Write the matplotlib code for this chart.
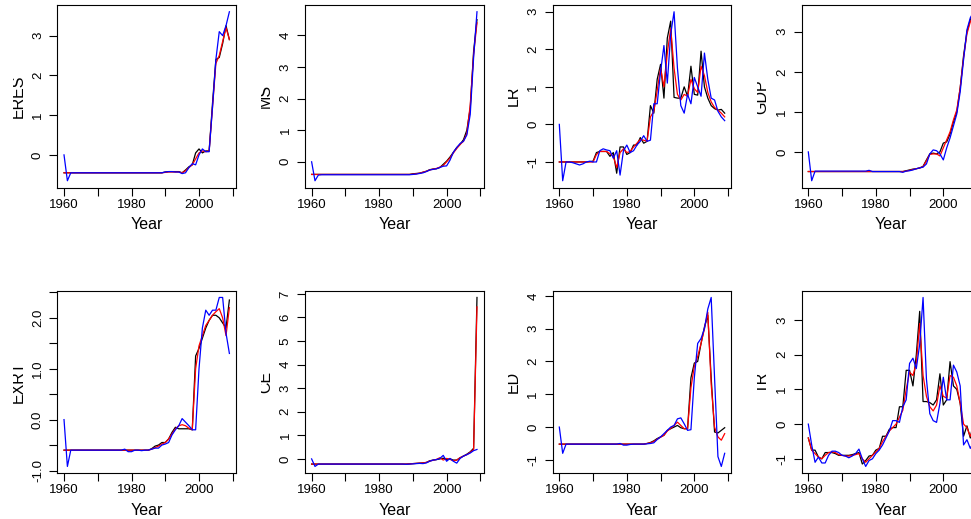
import numpy as np
import matplotlib
matplotlib.use("Agg")
import matplotlib.pyplot as plt
from matplotlib.transforms import Bbox, TransformedBbox

plt.rcParams['font.family'] = ['Liberation Sans', 'DejaVu Sans']
plt.rcParams['axes.unicode_minus'] = False

years = list(range(1960, 2010))

# ---- data (black, red, blue) ----
eres_black = [-0.45, -0.45, -0.45, -0.45, -0.45, -0.45, -0.45, -0.45, -0.45, -0.45,
              -0.45, -0.45, -0.45, -0.45, -0.45, -0.45, -0.45, -0.45, -0.45, -0.45,
              -0.45, -0.45, -0.45, -0.45, -0.45, -0.45, -0.45, -0.45, -0.45, -0.45,
              -0.43, -0.42, -0.42, -0.42, -0.42, -0.45, -0.38, -0.30, -0.25, 0.05,
              0.15, 0.05, 0.10, 0.10, 1.30, 2.40, 2.45, 2.80, 3.25, 2.90]
eres_red = [-0.45, -0.45, -0.45, -0.45, -0.45, -0.45, -0.45, -0.45, -0.45, -0.45,
            -0.45, -0.45, -0.45, -0.45, -0.45, -0.45, -0.45, -0.45, -0.45, -0.45,
            -0.45, -0.45, -0.45, -0.45, -0.45, -0.45, -0.45, -0.45, -0.45, -0.45,
            -0.44, -0.43, -0.43, -0.43, -0.43, -0.45, -0.40, -0.32, -0.25, -0.10,
            0.05, 0.10, 0.08, 0.10, 1.20, 2.30, 2.50, 2.85, 3.20, 2.90]
eres_blue = [0.00, -0.65, -0.45, -0.45, -0.45, -0.45, -0.45, -0.45, -0.45, -0.45,
             -0.45, -0.45, -0.45, -0.45, -0.45, -0.45, -0.45, -0.45, -0.45, -0.45,
             -0.45, -0.45, -0.45, -0.45, -0.45, -0.45, -0.45, -0.45, -0.45, -0.45,
             -0.43, -0.42, -0.42, -0.43, -0.43, -0.47, -0.45, -0.32, -0.22, -0.25,
             0.00, 0.15, 0.08, 0.08, 1.20, 2.40, 3.10, 3.00, 3.25, 3.60]

ms_black = [-0.40, -0.40, -0.40, -0.40, -0.40, -0.40, -0.40, -0.40, -0.40, -0.40,
            -0.40, -0.40, -0.40, -0.40, -0.40, -0.40, -0.40, -0.40, -0.40, -0.40,
            -0.40, -0.40, -0.40, -0.40, -0.40, -0.40, -0.40, -0.40, -0.40, -0.40,
            -0.38, -0.37, -0.36, -0.33, -0.30, -0.25, -0.23, -0.22, -0.18, -0.08,
            0.02, 0.15, 0.30, 0.45, 0.55, 0.70, 1.00, 1.70, 3.50, 4.50]
ms_red = [-0.40, -0.40, -0.40, -0.40, -0.40, -0.40, -0.40, -0.40, -0.40, -0.40,
          -0.40, -0.40, -0.40, -0.40, -0.40, -0.40, -0.40, -0.40, -0.40, -0.40,
          -0.40, -0.40, -0.40, -0.40, -0.40, -0.40, -0.40, -0.40, -0.40, -0.40,
          -0.39, -0.38, -0.36, -0.33, -0.30, -0.26, -0.23, -0.21, -0.17, -0.12,
          0.00, 0.12, 0.28, 0.42, 0.55, 0.65, 0.90, 1.80, 3.40, 4.40]
ms_blue = [0.00, -0.60, -0.42, -0.41, -0.41, -0.41, -0.41, -0.41, -0.41, -0.41,
           -0.41, -0.41, -0.41, -0.41, -0.41, -0.41, -0.41, -0.41, -0.41, -0.41,
           -0.41, -0.41, -0.41, -0.41, -0.41, -0.41, -0.41, -0.41, -0.41, -0.41,
           -0.40, -0.39, -0.37, -0.35, -0.31, -0.26, -0.24, -0.22, -0.18, -0.14,
           -0.13, 0.05, 0.30, 0.45, 0.58, 0.65, 0.85, 1.50, 3.30, 4.75]

lr_black = [-1.00, -1.00, -1.00, -1.00, -1.00, -1.00, -1.00, -1.00, -1.00, -0.99,
            -0.98, -0.75, -0.72, -0.72, -0.72, -0.85, -0.75, -1.30, -0.60, -0.60,
            -0.80, -0.75, -0.55, -0.55, -0.35, -0.50, -0.45, 0.50, 0.30, 1.20,
            1.60, 0.70, 2.30, 2.75, 0.72, 0.70, 0.70, 1.00, 0.75, 1.55,
            0.80, 0.78, 1.95, 1.00, 0.70, 0.50, 0.42, 0.38, 0.40, 0.30]
lr_red = [-1.00, -1.00, -1.00, -1.00, -1.00, -1.00, -1.00, -1.00, -1.00, -1.00,
          -1.00, -0.80, -0.72, -0.72, -0.72, -0.78, -0.85, -1.15, -0.75, -0.65,
          -0.75, -0.72, -0.60, -0.50, -0.40, -0.42, -0.45, 0.20, 0.35, 0.90,
          1.50, 1.00, 1.90, 2.55, 1.50, 0.80, 0.65, 0.80, 0.75, 1.20,
          0.95, 0.85, 1.55, 1.30, 0.85, 0.60, 0.45, 0.38, 0.30, 0.20]
lr_blue = [0.00, -1.50, -1.00, -1.00, -1.02, -1.05, -1.08, -1.05, -1.00, -0.98,
           -1.00, -1.00, -0.70, -0.65, -0.68, -0.70, -0.90, -0.70, -1.35, -0.70,
           -0.55, -0.75, -0.70, -0.55, -0.45, -0.30, -0.45, -0.42, 0.55, 0.55,
           1.40, 2.10, 1.10, 2.40, 3.00, 1.50, 0.50, 0.30, 0.80, 0.55,
           1.25, 1.00, 0.75, 1.90, 1.20, 0.70, 0.65, 0.35, 0.20, 0.10]

gdp_black = [-0.49, -0.49, -0.49, -0.49, -0.49, -0.49, -0.49, -0.49, -0.49, -0.49,
             -0.49, -0.49, -0.49, -0.49, -0.49, -0.49, -0.49, -0.49, -0.49, -0.49,
             -0.49, -0.49, -0.49, -0.49, -0.49, -0.49, -0.49, -0.49, -0.49, -0.47,
             -0.45, -0.43, -0.42, -0.40, -0.36, -0.20, -0.05, -0.03, -0.05, 0.00,
             0.22, 0.25, 0.45, 0.75, 1.00, 1.60, 2.40, 3.00, 3.30, 3.50]
gdp_red = [-0.49, -0.49, -0.49, -0.49, -0.49, -0.49, -0.49, -0.49, -0.49, -0.49,
           -0.49, -0.49, -0.49, -0.49, -0.49, -0.49, -0.49, -0.49, -0.49, -0.49,
           -0.49, -0.49, -0.49, -0.49, -0.49, -0.49, -0.49, -0.49, -0.49, -0.48,
           -0.46, -0.44, -0.42, -0.40, -0.37, -0.22, -0.06, -0.05, -0.05, -0.10,
           0.10, 0.30, 0.50, 0.80, 1.05, 1.60, 2.35, 2.95, 3.25, 3.40]
gdp_blue = [0.00, -0.72, -0.48, -0.48, -0.48, -0.48, -0.48, -0.48, -0.48, -0.48,
            -0.48, -0.48, -0.48, -0.48, -0.48, -0.48, -0.48, -0.48, -0.46, -0.49,
            -0.49, -0.49, -0.49, -0.49, -0.49, -0.49, -0.49, -0.49, -0.51, -0.48,
            -0.47, -0.45, -0.42, -0.40, -0.38, -0.30, -0.05, 0.05, 0.03, -0.05,
            -0.20, 0.10, 0.35, 0.65, 0.95, 1.50, 2.30, 3.05, 3.35, 3.50]

exrt_black = [-0.60, -0.60, -0.60, -0.60, -0.60, -0.60, -0.60, -0.60, -0.60, -0.60,
              -0.60, -0.60, -0.60, -0.60, -0.60, -0.60, -0.60, -0.60, -0.60, -0.60,
              -0.60, -0.60, -0.60, -0.60, -0.60, -0.60, -0.57, -0.52, -0.50, -0.45,
              -0.45, -0.38, -0.25, -0.15, -0.18, -0.18, -0.18, -0.18, -0.20, 1.25,
              1.40, 1.60, 1.80, 1.95, 2.05, 2.05, 2.00, 1.90, 1.80, 2.35]
exrt_red = [-0.60, -0.60, -0.60, -0.60, -0.60, -0.60, -0.60, -0.60, -0.60, -0.60,
            -0.60, -0.60, -0.60, -0.60, -0.60, -0.60, -0.60, -0.60, -0.60, -0.60,
            -0.60, -0.60, -0.60, -0.60, -0.60, -0.60, -0.58, -0.55, -0.52, -0.48,
            -0.45, -0.38, -0.28, -0.18, -0.12, -0.10, -0.12, -0.17, -0.20, 1.00,
            1.45, 1.65, 1.85, 1.95, 2.05, 2.12, 2.18, 2.00, 1.65, 2.20]
exrt_blue = [0.00, -0.92, -0.60, -0.60, -0.60, -0.60, -0.60, -0.60, -0.60, -0.60,
             -0.60, -0.60, -0.60, -0.60, -0.60, -0.60, -0.60, -0.60, -0.58, -0.63,
             -0.63, -0.60, -0.60, -0.61, -0.60, -0.60, -0.58, -0.56, -0.56, -0.50,
             -0.48, -0.45, -0.30, -0.20, -0.12, 0.02, -0.05, -0.12, -0.20, -0.20,
             1.00, 1.80, 2.15, 2.05, 2.15, 2.15, 2.40, 2.40, 1.70, 1.30]

ce_black = [-0.22, -0.22, -0.22, -0.22, -0.22, -0.22, -0.22, -0.22, -0.22, -0.22,
            -0.22, -0.22, -0.22, -0.22, -0.22, -0.22, -0.22, -0.22, -0.22, -0.22,
            -0.22, -0.22, -0.22, -0.22, -0.22, -0.22, -0.22, -0.22, -0.22, -0.21,
            -0.20, -0.19, -0.18, -0.17, -0.15, -0.08, -0.05, -0.03, 0.00, 0.03,
            -0.02, 0.00, -0.05, -0.05, 0.05, 0.12, 0.20, 0.30, 0.45, 6.85]
ce_red = [-0.22, -0.22, -0.22, -0.22, -0.22, -0.22, -0.22, -0.22, -0.22, -0.22,
          -0.22, -0.22, -0.22, -0.22, -0.22, -0.22, -0.22, -0.22, -0.22, -0.22,
          -0.22, -0.22, -0.22, -0.22, -0.22, -0.22, -0.22, -0.22, -0.22, -0.21,
          -0.20, -0.19, -0.18, -0.17, -0.15, -0.09, -0.06, -0.02, 0.05, -0.05,
          0.02, -0.02, -0.08, -0.05, 0.05, 0.12, 0.18, 0.28, 0.40, 6.45]
ce_blue = [0.00, -0.32, -0.22, -0.22, -0.22, -0.22, -0.22, -0.22, -0.22, -0.22,
           -0.22, -0.22, -0.22, -0.22, -0.22, -0.22, -0.22, -0.22, -0.22, -0.22,
           -0.22, -0.22, -0.22, -0.22, -0.22, -0.22, -0.22, -0.22, -0.23, -0.22,
           -0.21, -0.20, -0.19, -0.20, -0.17, -0.10, -0.05, -0.03, 0.02, 0.15,
           -0.10, 0.02, -0.10, -0.18, 0.02, 0.12, 0.18, 0.25, 0.35, 0.40]

ed_black = [-0.52, -0.52, -0.52, -0.52, -0.52, -0.52, -0.52, -0.52, -0.52, -0.52,
            -0.52, -0.52, -0.52, -0.52, -0.52, -0.52, -0.52, -0.52, -0.52, -0.52,
            -0.52, -0.52, -0.52, -0.52, -0.52, -0.52, -0.50, -0.47, -0.42, -0.35,
            -0.30, -0.25, -0.10, -0.05, 0.00, 0.05, -0.02, -0.05, -0.05, 1.50,
            1.95, 2.00, 2.55, 3.05, 3.40, 1.50, -0.15, -0.18, -0.10, -0.02]
ed_red = [-0.52, -0.52, -0.52, -0.52, -0.52, -0.52, -0.52, -0.52, -0.52, -0.52,
          -0.52, -0.52, -0.52, -0.52, -0.52, -0.52, -0.52, -0.52, -0.52, -0.52,
          -0.52, -0.52, -0.52, -0.52, -0.52, -0.52, -0.50, -0.48, -0.44, -0.37,
          -0.31, -0.25, -0.12, -0.04, 0.05, 0.15, 0.05, -0.05, -0.05, 1.20,
          1.85, 2.15, 2.55, 3.00, 3.50, 1.30, 0.00, -0.30, -0.40, -0.20]
ed_blue = [0.00, -0.80, -0.52, -0.52, -0.52, -0.52, -0.52, -0.52, -0.52, -0.52,
           -0.52, -0.52, -0.52, -0.52, -0.52, -0.52, -0.52, -0.52, -0.50, -0.55,
           -0.55, -0.53, -0.52, -0.52, -0.52, -0.52, -0.51, -0.50, -0.48, -0.38,
           -0.30, -0.20, -0.10, 0.00, 0.05, 0.25, 0.28, 0.10, -0.10, -0.08,
           1.50, 2.55, 2.70, 3.00, 3.60, 3.95, 1.50, -0.90, -1.20, -0.80]

tr_black = [-0.40, -0.75, -0.75, -0.95, -1.00, -0.82, -0.82, -0.82, -0.85, -0.90,
            -0.90, -0.90, -0.90, -0.88, -0.85, -0.82, -1.15, -1.05, -0.92, -0.90,
            -0.75, -0.70, -0.35, -0.35, -0.15, -0.10, -0.10, 0.50, 0.50, 1.55,
            1.55, 1.10, 2.00, 3.25, 0.65, 0.65, 0.62, 0.55, 0.70, 1.45,
            0.55, 0.70, 1.80, 1.10, 1.00, 0.60, -0.35, -0.05, -0.40, 0.10]
tr_red = [-0.40, -0.75, -0.85, -0.95, -1.00, -0.90, -0.82, -0.80, -0.82, -0.88,
          -0.90, -0.92, -0.92, -0.90, -0.88, -0.85, -1.00, -1.10, -1.00, -0.90,
          -0.80, -0.70, -0.50, -0.35, -0.20, -0.10, 0.00, 0.20, 0.40, 1.00,
          1.50, 1.40, 1.75, 2.90, 1.40, 0.80, 0.50, 0.38, 0.55, 1.10,
          0.80, 0.75, 1.40, 1.35, 1.10, 0.60, 0.00, -0.10, -0.35, -0.10]
tr_blue = [0.00, -0.60, -1.10, -0.95, -1.12, -1.12, -0.90, -0.78, -0.78, -0.82,
           -0.90, -0.92, -0.97, -0.92, -0.85, -0.72, -1.00, -1.22, -1.05, -1.00,
           -0.85, -0.75, -0.60, -0.40, -0.20, 0.10, 0.10, 0.05, 0.50, 0.70,
           1.75, 1.90, 1.60, 2.30, 3.65, 1.30, 0.30, 0.10, 0.05, 0.60,
           1.35, 0.70, 0.70, 1.70, 1.50, 1.10, -0.60, -0.45, -0.70, -0.50]

panel_names = ['ERES', 'MS', 'LR', 'GDP', 'EXRT', 'CE', 'ED', 'TR']
panel_data = [(eres_black, eres_red, eres_blue), (ms_black, ms_red, ms_blue),
              (lr_black, lr_red, lr_blue), (gdp_black, gdp_red, gdp_blue),
              (exrt_black, exrt_red, exrt_blue), (ce_black, ce_red, ce_blue),
              (ed_black, ed_red, ed_blue), (tr_black, tr_red, tr_blue)]
ytick_step = [1, 1, 1, 1, 0.5, 1, 1, 1]

# ---- layout in pixels (reference is a crop of a wider R figure) ----
W, H = 971, 519
col_left = [57.4, 305.0, 552.7, 801.7]
row_top = [5.0, 290.7]
box_w, box_h = 178.6, 182.5

fig = plt.figure(figsize=(W / 100, H / 100), dpi=100)

for i, name in enumerate(panel_names):
    r, c = divmod(i, 4)
    x0, y0 = col_left[c], row_top[r]
    ax = fig.add_axes([x0 / W, 1 - (y0 + box_h) / H, box_w / W, box_h / H])
    black, red, blue = panel_data[i]
    ax.plot(years, black, color='black', lw=0.9)
    ax.plot(years, red, color='red', lw=0.9)
    ax.plot(years, blue, color='blue', lw=0.9)
    ax.margins(x=0.04, y=0.04)

    ax.set_xticks([1960, 1970, 1980, 1990, 2000, 2010])
    ax.set_xticklabels(['1960', '', '1980', '', '2000', ''])

    lo, hi = ax.get_ylim()
    step = ytick_step[i]
    ticks = np.arange(np.ceil(lo / step) * step, hi + 1e-9, step)
    if step == 0.5:
        labels = ['%.1f' % t if abs(t - round(t)) < 1e-9 else '' for t in ticks]
    else:
        labels = ['%d' % round(t) for t in ticks]
    ax.set_yticks(ticks)
    ax.set_yticklabels(labels, rotation=90, va='center', ha='center')
    ax.set_ylim(lo, hi)

    ax.tick_params(axis='both', direction='out', length=6, width=0.8,
                   labelsize=9.5, colors='black')
    ax.tick_params(axis='x', pad=2)
    ax.tick_params(axis='y', pad=8)
    for s in ax.spines.values():
        s.set_linewidth(0.8)

    ax.text(0.5, -37 / box_h, 'Year', transform=ax.transAxes,
            ha='center', va='center', fontsize=11.5)

    # y label, clipped at the left edge of its R figure region
    lab = fig.text((x0 - 35) / W, 1 - (y0 + box_h / 2) / H, name,
                   rotation=90, rotation_mode='anchor', ha='center',
                   va='baseline', fontsize=11.5)
    clip = TransformedBbox(Bbox([[(x0 - 44.5) / W, 0], [1.5, 1]]), fig.transFigure)
    lab.set_clip_box(clip)
    lab.set_clip_on(True)

fig.savefig('out.png', dpi=100)
